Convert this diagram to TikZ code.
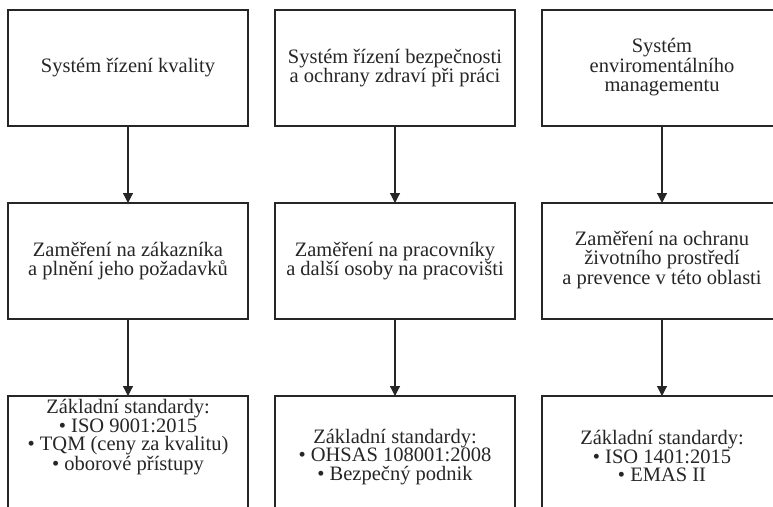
\documentclass[tikz,border=0pt]{standalone}
\usepackage{fontspec}
\setmainfont{Liberation Serif}
\usetikzlibrary{arrows.meta}
\begin{document}
\begin{tikzpicture}[x=1pt,y=-1pt,
  box/.style={draw=black!85,line width=1.2pt,fill=white},
  lbl/.style={align=center,font=\fontsize{20.5}{18.5}\selectfont,inner sep=0pt,text=black!85},
  arr/.style={draw=black!85,line width=1.2pt,-{Triangle[length=10pt,width=10pt]}}]
\useasboundingbox (0,0) rectangle (773,506);
\clip (0,0) rectangle (773,506);
% boxes row 1
\draw[box] (8,10) rectangle (248,126); \coordinate (a1t) at (128,126);
\draw[box] (275,10) rectangle (515,126); \coordinate (b1t) at (395,126);
\draw[box] (542,10) rectangle (782,126); \coordinate (c1t) at (662,126);
% row 2
\draw[box] (8,203) rectangle (248,319);
\draw[box] (275,203) rectangle (515,319);
\draw[box] (542,203) rectangle (782,319);
% row 3
\draw[box] (8,396) rectangle (248,530);
\draw[box] (275,396) rectangle (515,530);
\draw[box] (542,396) rectangle (782,530);
% text
\node[lbl] (a1) at (128,68) {Systém řízení kvality};
\node[lbl] (b1) at (395,68) {Systém řízení bezpečnosti\\a ochrany zdraví při práci};
\node[lbl] (c1) at (662,67) {Systém\\enviromentálního\\managementu};
\node[lbl] (a2) at (128,261) {Zaměření na zákazníka\\a plnění jeho požadavků};
\node[lbl] (b2) at (395,261) {Zaměření na pracovníky\\a další osoby na pracovišti};
\node[lbl] (c2) at (662,260) {Zaměření na ochranu\\životního prostředí\\a prevence v této oblasti};
\node[lbl] (a3) at (128,437) {Základní standardy:\\• ISO 9001:2015\\• TQM (ceny za kvalitu)\\• oborové přístupy};
\node[lbl] (b3) at (395,457) {Základní standardy:\\• OHSAS 108001:2008\\• Bezpečný podnik};
\node[lbl] (c3) at (662,456) {Základní standardy:\\• ISO 1401:2015\\• EMAS II};
% connectors
\coordinate (a2t) at (128,203); \coordinate (a2b) at (128,319); \coordinate (a3t) at (128,396);
\coordinate (b2t) at (395,203); \coordinate (b2b) at (395,319); \coordinate (b3t) at (395,396);
\coordinate (c2t) at (662,203); \coordinate (c2b) at (662,319); \coordinate (c3t) at (662,396);
\draw[arr] (a1t) -- (a2t);
\draw[arr] (b1t) -- (b2t);
\draw[arr] (c1t) -- (c2t);
\draw[arr] (a2b) -- (a3t);
\draw[arr] (b2b) -- (b3t);
\draw[arr] (c2b) -- (c3t);
\end{tikzpicture}
\end{document}
